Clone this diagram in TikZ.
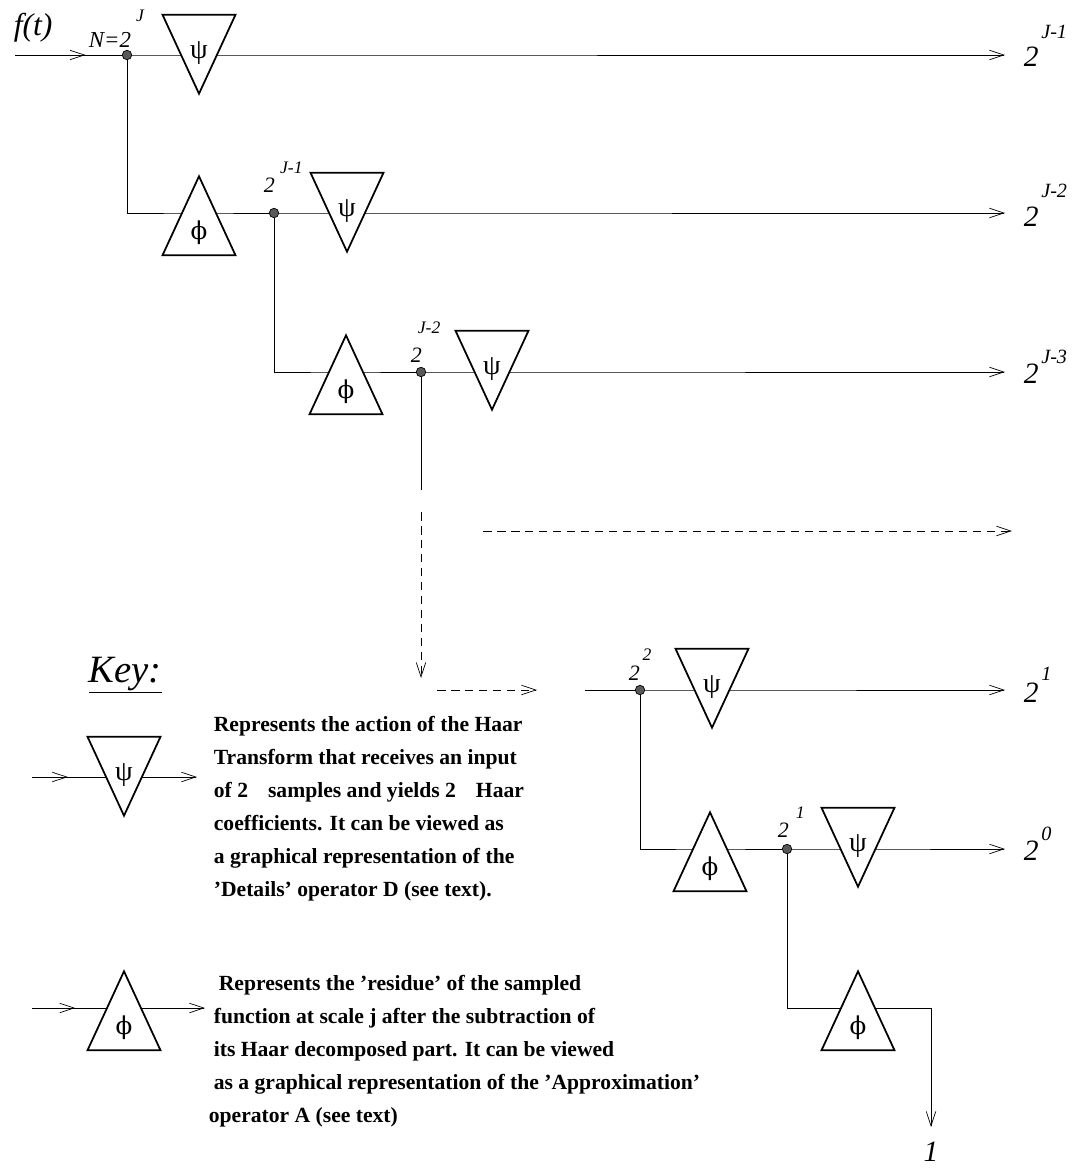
\documentclass[tikz,border=0pt]{standalone}
\usepackage{fontspec}
\setmainfont{Liberation Serif}
\newfontfamily\greekfont{DejaVu Serif}
\usepackage{tikz}
\usetikzlibrary{arrows.meta, shapes.geometric, backgrounds, decorations.markings}

\newcommand{\supsize}{\fontsize{10}{12}\selectfont}
\newcommand{\pw}[3][1.5pt]{2\raisebox{#2}{\hspace{#1}\supsize #3}}
\newcommand{\psisym}{\raisebox{-0.32cm}[\height][\depth]{ψ}}
\newcommand{\phisym}{{\greekfont\fontsize{14}{14}\selectfont ϕ}}

\begin{document}
\begin{tikzpicture}[
        x=0.02cm, y=-0.02cm,
        line width=1pt,
        filter/.style={isosceles triangle, isosceles triangle stretches, draw, fill=white, inner sep=0pt, minimum width=1.46cm, minimum height=1.58cm, anchor=apex},
        psibox/.style={filter, shape border rotate=270, font=\fontsize{16}{16}\selectfont},
        phibox/.style={filter, shape border rotate=90, font=\fontsize{15}{15}\selectfont},
        dot/.style={circle, draw=black, fill=black!65, inner sep=0pt, minimum size=0.19cm, line width=0.4pt},
        arrow/.style={-{Straight Barb[length=2.9mm, width=1.9mm]}},
        dashline/.style={dash pattern=on 0.17cm off 0.11cm},
        midarrow/.style={postaction={decorate}, decoration={markings, mark=at position #1 with {\arrow{Straight Barb[length=2.9mm, width=1.9mm]}}}},
        inlabel/.style={anchor=base west, inner sep=0pt, font=\fontsize{12.5}{14}\selectfont\itshape},
        outlabel/.style={anchor=base west, inner sep=0pt, font=\fontsize{16.8}{18}\selectfont\itshape\def\supsize{\fontsize{11.5}{13}\selectfont}},
        keytext/.style={anchor=north west, align=left, inner sep=0pt, font=\fontsize{12.3}{18.8}\selectfont\bfseries},
    ]
        \useasboundingbox (0,0) rectangle (1076,1169);

        % input and first level (triangles are placed by their apex)
        \node[anchor=base west, inner sep=0pt, font=\fontsize{18}{20}\selectfont\itshape] (ft) at (13,36) {f(t)};
        \coordinate (in1) at (15,55);
        \node[dot] (d1) at (127,55) {};
        \node[inlabel, font=\fontsize{13}{15}\selectfont\itshape] (n1) at (88,48) {N=\pw[3pt]{0.54cm}{J}};
        \node[psibox] (psi1) at (199,96) {\psisym};
        \coordinate (out1) at (1005,55);
        \node[outlabel] (o1) at (1023,67) {\pw{0.58cm}{J-1}};

        % second level
        \node[phibox] (phi2) at (199,174) {\phisym};
        \node[dot] (d2) at (274,213) {};
        \node[inlabel] (l2) at (263,193) {\pw[3pt]{0.4cm}{J-1}};
        \node[psibox] (psi2) at (347,254) {\psisym};
        \coordinate (out2) at (1005,213);
        \node[outlabel] (o2) at (1023,227) {\pw{0.6cm}{J-2}};

        % third level
        \node[phibox] (phi3) at (346,333) {\phisym};
        \node[dot] (d3) at (421,372) {};
        \node[inlabel] (l3) at (410,362) {\pw[-0.08cm]{0.58cm}{J-2}};
        \node[psibox] (psi3) at (492,412) {\psisym};
        \coordinate (out3) at (1005,372);
        \node[outlabel] (o3) at (1023,383) {\pw{0.4cm}{J-3}};

        % dashed continuation
        \coordinate (v3) at (421,490);
        \coordinate (vd1) at (421,512);
        \coordinate (vd2) at (421,678);
        \coordinate (hd1) at (437,690);
        \coordinate (hd2) at (537,690);
        \coordinate (ld1) at (483,531);
        \coordinate (ld2) at (1012,531);

        % last levels
        \coordinate (in4) at (585,690);
        \node[dot] (d4) at (640,690) {};
        \node[inlabel] (l4) at (628,680) {\pw{0.4cm}{2}};
        \node[psibox] (psi4) at (712,730) {\psisym};
        \coordinate (out4) at (1005,690);
        \node[outlabel] (o4) at (1023,702) {\pw{0.44cm}{1}};

        \node[phibox] (phi5) at (710,810) {\phisym};
        \node[dot] (d5) at (787,849) {};
        \node[inlabel] (l5) at (777,837) {\pw[4pt]{0.38cm}{1}};
        \node[psibox] (psi5) at (858,889) {\psisym};
        \coordinate (out5) at (1005,849);
        \node[outlabel] (o5) at (1023,860) {\pw{0.4cm}{0}};

        \node[phibox] (phi6) at (858,969) {\phisym};
        \coordinate (c6) at (931,1008);
        \coordinate (out6) at (931,1127);
        \node[anchor=base, inner sep=0pt, font=\fontsize{16.8}{18}\selectfont\itshape] (one) at (931,1161) {1};

        % key
        \node[anchor=base west, inner sep=0pt, font=\fontsize{22}{24}\selectfont\itshape] (key) at (88,682) {\underline{Key:}};
        \coordinate (kin1) at (32,777);
        \node[psibox] (kpsi) at (124,818) {\psisym};
        \coordinate (kout1) at (197,777);
        \node[keytext] (ktext1) at (213,715) {Represents the action of the Haar\\
            Transform that receives an input\\
            of 2\hspace{0.4cm}samples and yields 2\hspace{0.4cm}Haar\\
            coefficients. It can be viewed as\\
            a graphical representation of the\\
            'Details' operator D (see text).};

        \coordinate (kin2) at (32,1008);
        \node[phibox] (kphi) at (124,969) {\phisym};
        \coordinate (kout2) at (205,1008);
        \node[keytext] (ktext2) at (208,974) {\hspace*{0.2cm}Represents the 'residue' of the sampled\\
            \hspace*{0.1cm}function at scale j after the subtraction of\\
            \hspace*{0.1cm}its Haar decomposed part. It can be viewed\\
            \hspace*{0.1cm}as a graphical representation of the 'Approximation'\\
            operator A (see text)};

        % connectors
        \begin{scope}[on background layer]
            \fill[white] (0,0) rectangle (1076,1169);
            \draw[midarrow=0.66] (in1) -- (d1);
            \draw[arrow] (d1) -- (psi1 |- d1) -- (out1);
            \draw (d1) |- (phi2 |- d2) -- (d2);
            \draw[arrow] (d2) -- (psi2 |- d2) -- (out2);
            \draw (d2) |- (phi3 |- d3) -- (d3);
            \draw[arrow] (d3) -- (psi3 |- d3) -- (out3);
            \draw (d3) -- (v3);
            \draw[arrow, dashline] (vd1) -- (vd2);
            \draw[arrow, dashline] (hd1) -- (hd2);
            \draw[arrow, dashline] (ld1) -- (ld2);
            \draw (in4) -- (d4);
            \draw[arrow] (d4) -- (psi4 |- d4) -- (out4);
            \draw (d4) |- (phi5 |- d5) -- (d5);
            \draw[arrow] (d5) -- (psi5 |- d5) -- (out5);
            \draw[arrow] (d5) |- (phi6 |- c6) -- (c6) -- (out6);
            \draw[midarrow=0.39] (kin1) -- (kpsi |- kin1);
            \draw[arrow] (kpsi |- kin1) -- (kout1);
            \draw[midarrow=0.47] (kin2) -- (kphi |- kin2);
            \draw[arrow] (kphi |- kin2) -- (kout2);
        \end{scope}
\end{tikzpicture}
\end{document}
